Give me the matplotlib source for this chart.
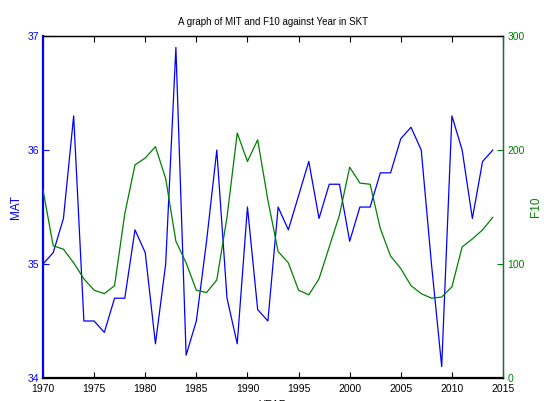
import numpy as np
import matplotlib
matplotlib.use('Agg')
from matplotlib import pyplot as plt

plt.rcParams['font.family'] = ['Liberation Sans', 'DejaVu Sans']

# yearly series, 1970-2014
years = list(range(1970, 2015))
mat = [35.0, 35.1, 35.4, 36.3, 34.5, 34.5, 34.4, 34.7, 34.7, 35.3,
       35.1, 34.3, 35.0, 36.9, 34.2, 34.5, 35.2, 36.0, 34.7, 34.3,
       35.5, 34.6, 34.5, 35.5, 35.3, 35.6, 35.9, 35.4, 35.7, 35.7,
       35.2, 35.5, 35.5, 35.8, 35.8, 36.1, 36.2, 36.0, 35.0, 34.1,
       36.3, 36.0, 35.4, 35.9, 36.0]
f10 = [165, 116, 113, 101, 87, 77, 74, 81, 144, 187,
       193, 203, 175, 120, 101, 77, 75, 86, 141, 215,
       190, 209, 156, 111, 101, 77, 73, 87, 115, 143,
       185, 171, 170, 131, 107, 96, 81, 74, 70, 71,
       80, 115, 122, 130, 141]

xticks = list(range(1970, 2016, 5))
mat_ticks = [34, 35, 36, 37]
f10_ticks = [0, 100, 200, 300]

fig = plt.figure(figsize=(5.54, 4.01), dpi=100)
ax = fig.add_axes([0.0776, 0.0574, 0.8304, 0.8526])
ax2 = ax.twinx()

ax.plot(years, mat, color='blue', lw=0.9)
ax2.plot(years, f10, color='green', lw=0.9)

ax.set_xlim(1970, 2015)
ax.set_ylim(34, 37)
ax2.set_ylim(0, 300)
ax.set_xticks(xticks)
ax.set_yticks(mat_ticks)
ax2.set_yticks(f10_ticks)

ax.tick_params(axis='x', direction='in', length=4, top=True, labelsize=7.5,
               pad=4, colors='black')
ax.tick_params(axis='y', direction='in', length=4, labelsize=7.5, pad=3,
               colors='blue')
ax2.tick_params(axis='y', direction='in', length=4, labelsize=7.5, pad=3,
                colors='green')

ax.spines['left'].set_color('blue')
ax.spines['left'].set_linewidth(1.6)
ax.spines['bottom'].set_linewidth(1.6)
ax.spines['top'].set_linewidth(1.0)
ax2.spines['right'].set_color('#1a6e3a')
ax2.spines['right'].set_linewidth(1.0)
ax2.spines['left'].set_visible(False)

ax.set_title('A graph of MIT and F10 against Year in SKT', fontsize=7, pad=8)
ax.set_ylabel('MAT', color='blue', fontsize=8.5, labelpad=4)
ax2.set_ylabel('F10', color='green', fontsize=8.5, labelpad=4)
ax.set_xlabel('YEAR', fontsize=7.5, labelpad=5)

fig.savefig('out.png', dpi=100)
